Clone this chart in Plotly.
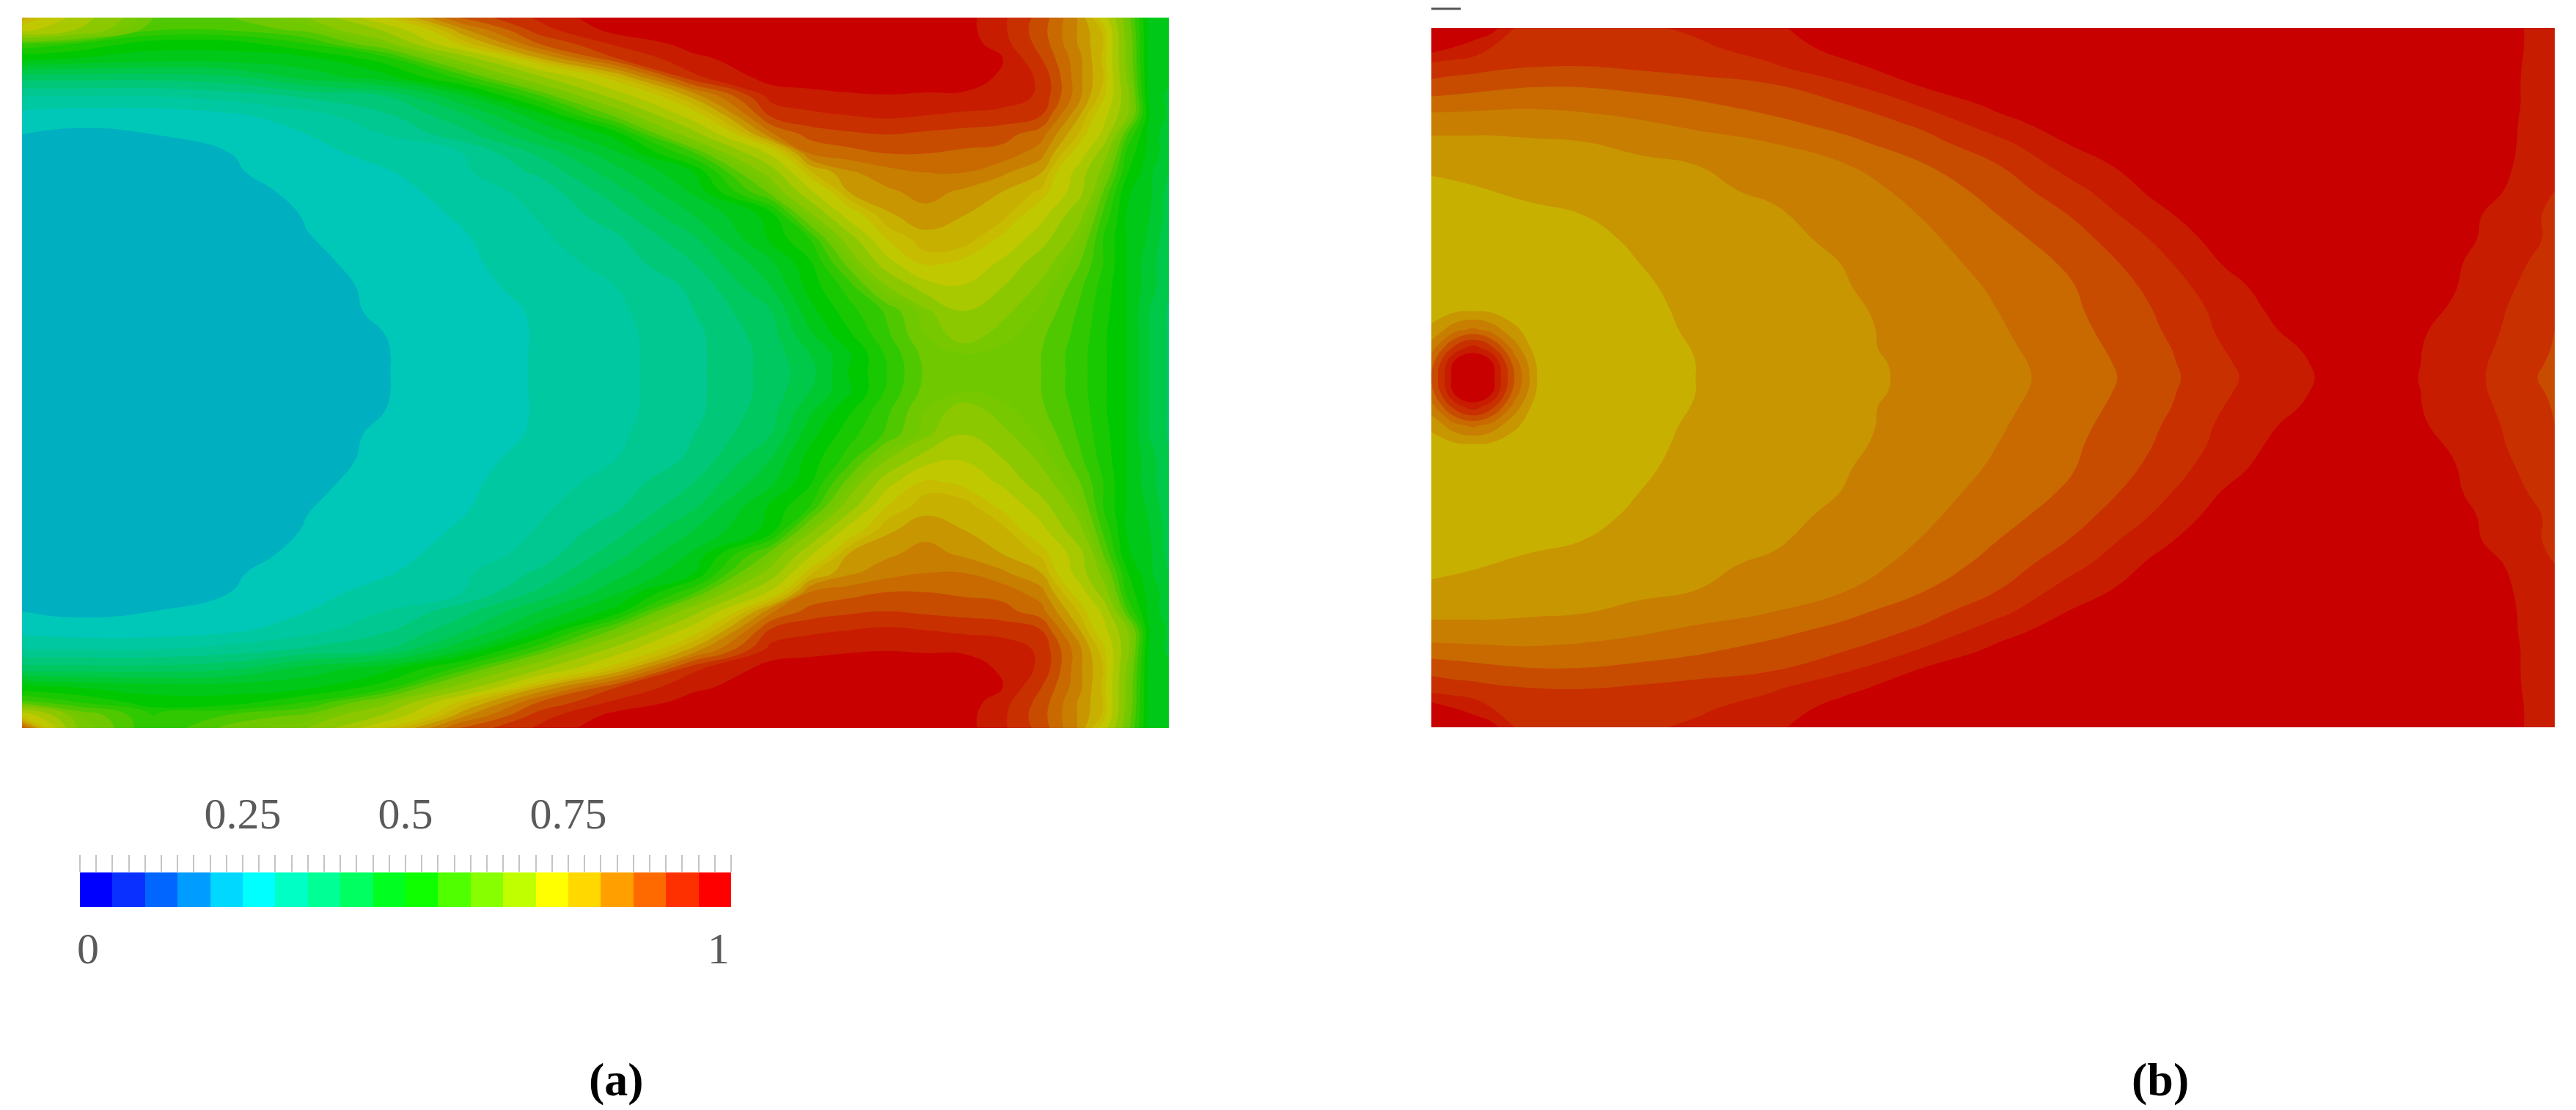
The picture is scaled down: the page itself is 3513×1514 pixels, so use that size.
import plotly.graph_objects as go

W, H = 3513, 1514
PAGE_MARGIN = 8

# Band colours of the two fields (40 bands, lower edge = index * 0.025)
field_colors = [
    "#0000c8", "#0014c8", "#0028c8", "#003cc8", "#0050c8", "#0064c8", "#0078c8", "#008cc8",
    "#00a0c8", "#00b0c0", "#00c8b8", "#00c8a0", "#00c890", "#00c878", "#00c860", "#00c848",
    "#00c830", "#00c818", "#00c800", "#18c800", "#30c800", "#50c800", "#70c800", "#78c800",
    "#8cc800", "#8cc800", "#a8c800", "#a8c800", "#c0c800", "#c0c800", "#c8bc00", "#c8b000",
    "#c89600", "#c87e00", "#c86a00", "#c84c00", "#c83000", "#c81c00", "#c80000", "#c80000",
]
# Colour bar cells
bar_colors = [
    "#0000ff", "#0a30ff", "#0066ff", "#009cff", "#00d8ff", "#00ffff", "#00ffc4", "#00ff94",
    "#00ff60", "#00ff20", "#10ff00", "#50ff00", "#88ff00", "#c0ff00", "#ffff00", "#ffd800",
    "#ffa000", "#ff6a00", "#ff3000", "#ff0000",
]
bar_edges = [i / 20 for i in range(21)]
bar_values = [[i / 20 + 0.025 for i in range(20)]]
bar_ticks = [i / 40 for i in range(41)]
bar_top_labels = {0.25: "0.25", 0.5: "0.5", 0.75: "0.75"}

# Panel (a)
a_x = [30, 100, 200, 300, 400, 500, 600, 700, 800, 900, 1000, 1050, 1100, 1150, 1200, 1250, 1300, 1350, 1400, 1430, 1460, 1490, 1515]
a_y_top = [35, 60, 90, 120, 160, 200, 240, 280, 320, 360, 400, 450, 500, 550, 600, 650, 700, 740, 780]
a_top = [
    [.8,.68,.55,.55,.6,.75,.88,.93,.97,.97,.97,.97,.97,.97,.97,.96,.93,.89,.82,.73,.57,.44,.43],
    [.72,.65,.53,.53,.56,.66,.82,.915,.96,.97,.97,.97,.97,.97,.97,.96,.93,.885,.82,.77,.58,.44,.43],
    [.52,.5,.46,.46,.5,.58,.76,.875,.93,.96,.97,.97,.97,.97,.97,.965,.935,.89,.82,.775,.59,.44,.43],
    [.46,.45,.44,.44,.445,.49,.62,.8,.9,.945,.965,.97,.97,.97,.97,.965,.95,.9,.83,.77,.59,.44,.43],
    [.36,.36,.36,.37,.41,.44,.51,.64,.775,.92,.96,.965,.97,.97,.97,.965,.945,.92,.83,.775,.6,.44,.43],
    [.3,.3,.3,.31,.33,.35,.42,.52,.67,.81,.935,.94,.945,.948,.945,.945,.94,.92,.83,.76,.62,.44,.42],
    [.265,.26,.26,.27,.29,.32,.37,.44,.56,.73,.905,.92,.925,.93,.925,.92,.915,.9,.80,.72,.61,.45,.42],
    [.25,.245,.25,.26,.275,.30,.34,.40,.46,.63,.845,.885,.895,.90,.895,.89,.885,.86,.77,.69,.53,.44,.41],
    [.235,.235,.238,.25,.265,.285,.30,.355,.42,.52,.71,.85,.865,.875,.875,.87,.865,.835,.725,.625,.495,.44,.41],
    [.23,.23,.23,.247,.262,.272,.295,.33,.39,.45,.62,.77,.82,.84,.85,.85,.83,.8,.675,.585,.48,.43,.4],
    [.23,.23,.23,.24,.257,.266,.285,.31,.365,.43,.56,.69,.80,.82,.835,.82,.80,.77,.665,.55,.455,.43,.39],
    [.23,.23,.23,.232,.252,.262,.278,.302,.34,.40,.46,.585,.72,.795,.815,.80,.785,.715,.61,.52,.45,.425,.39],
    [.23,.23,.23,.232,.249,.26,.272,.295,.32,.37,.455,.5,.62,.75,.79,.79,.74,.67,.575,.50,.45,.42,.38],
    [.23,.23,.23,.232,.245,.258,.27,.288,.31,.35,.42,.47,.56,.68,.76,.74,.69,.62,.55,.5,.45,.41,.38],
    [.23,.23,.23,.232,.24,.256,.268,.282,.30,.33,.40,.46,.51,.595,.675,.695,.65,.59,.53,.49,.45,.41,.38],
    [.23,.23,.23,.23,.235,.256,.263,.278,.295,.325,.375,.44,.49,.53,.59,.65,.61,.57,.52,.485,.45,.40,.37],
    [.23,.23,.23,.23,.232,.25,.262,.277,.293,.318,.365,.42,.47,.52,.575,.62,.585,.555,.515,.48,.45,.4,.37],
    [.23,.23,.23,.23,.232,.249,.263,.277,.292,.318,.36,.40,.445,.505,.56,.575,.565,.55,.51,.48,.45,.4,.37],
    [.23,.23,.23,.23,.232,.249,.263,.277,.292,.318,.36,.39,.45,.5,.555,.56,.56,.55,.51,.48,.45,.4,.37],
]
a_bottom_edge = [
    [.53,.5,.46,.46,.5,.58,.76,.875,.93,.96,.97,.97,.97,.97,.97,.965,.935,.89,.82,.775,.59,.44,.43],
    [.75,.58,.5,.53,.56,.66,.82,.915,.96,.97,.97,.97,.97,.97,.97,.96,.93,.885,.82,.77,.58,.44,.43],
    [.88,.6,.5,.56,.6,.75,.88,.93,.97,.97,.97,.97,.97,.97,.97,.96,.93,.89,.82,.73,.57,.44,.43],
]
a_z = a_top + a_top[-2:2:-1] + a_bottom_edge
a_y = a_y_top + [1560 - y for y in a_y_top[-2::-1]]

# Panel (b)
b_x = [50, 80, 105, 130, 160, 190, 250, 325, 400, 500, 600, 700, 800, 900, 1000, 1100, 1200, 1300, 1400, 1470, 1538]
b_y_top = [60, 100, 140, 180, 220, 260, 300, 350, 400, 450, 500, 550, 600, 650, 690, 730, 760, 790]
b_top = [
    [.98,.975,.97,.96,.925,.915,.915,.92,.93,.945,.968,.97,.97,.97,.97,.97,.97,.97,.97,.96,.935],
    [.965,.95,.94,.925,.915,.912,.912,.915,.92,.937,.96,.97,.97,.97,.97,.97,.97,.97,.97,.96,.935],
    [.915,.912,.91,.906,.903,.901,.9,.905,.912,.922,.945,.965,.97,.97,.97,.97,.97,.97,.97,.96,.932],
    [.893,.888,.885,.882,.879,.877,.877,.882,.888,.898,.922,.952,.97,.97,.97,.97,.97,.97,.97,.96,.93],
    [.862,.861,.859,.857,.855,.855,.858,.864,.871,.884,.90,.928,.957,.97,.97,.97,.97,.97,.97,.96,.93],
    [.833,.833,.833,.833,.834,.835,.838,.846,.856,.868,.884,.905,.94,.965,.97,.97,.97,.97,.97,.958,.93],
    [.82,.82,.82,.82,.821,.822,.824,.83,.838,.85,.869,.89,.918,.953,.97,.97,.97,.97,.97,.957,.93],
    [.806,.808,.81,.811,.812,.813,.816,.82,.824,.838,.848,.872,.898,.936,.962,.97,.97,.97,.97,.955,.927],
    [.79,.794,.797,.8,.803,.806,.811,.817,.821,.828,.838,.859,.885,.917,.953,.97,.97,.97,.965,.95,.925],
    [.785,.785,.787,.79,.793,.795,.8,.807,.813,.822,.835,.851,.875,.902,.94,.97,.97,.97,.965,.94,.92],
    [.785,.785,.785,.785,.787,.79,.795,.803,.81,.819,.83,.845,.865,.89,.925,.962,.97,.97,.96,.94,.92],
    [.785,.785,.785,.785,.785,.785,.79,.80,.807,.815,.826,.841,.858,.88,.913,.952,.97,.97,.955,.934,.915],
    [.785,.785,.785,.785,.785,.785,.786,.797,.806,.814,.824,.838,.853,.874,.904,.941,.97,.97,.953,.93,.91],
    [.79,.795,.798,.795,.787,.785,.785,.795,.804,.813,.821,.835,.85,.871,.898,.933,.965,.97,.948,.926,.905],
    [.805,.84,.855,.84,.805,.785,.785,.793,.803,.812,.82,.833,.847,.868,.894,.93,.958,.97,.942,.924,.9],
    [.84,.91,.94,.91,.84,.785,.785,.79,.801,.811,.82,.832,.844,.865,.889,.925,.95,.97,.938,.922,.898],
    [.865,.955,.975,.955,.865,.797,.785,.79,.8,.81,.819,.83,.842,.862,.887,.922,.947,.97,.937,.92,.895],
    [.875,.96,1.0,.96,.875,.8,.785,.79,.8,.81,.818,.83,.841,.861,.885,.92,.945,.97,.935,.92,.89],
]
b_z = b_top + b_top[-2::-1]
b_y = b_y_top + [1580 - y for y in b_y_top[-2::-1]]


def px(x):
    return (x - PAGE_MARGIN) / W


def py(y):
    return 1 - (y - PAGE_MARGIN) / H


def bands(colors):
    n = len(colors)
    out = []
    for i, c in enumerate(colors):
        out += [[i / n, c], [(i + 1) / n, c]]
    return out


def field(x, y, z, xa, ya):
    return go.Contour(
        x=x, y=y, z=z, xaxis=xa, yaxis=ya,
        colorscale=bands(field_colors), zmin=0, zmax=1, zauto=False, showscale=False,
        contours=dict(coloring="fill", start=0, end=1, size=0.025, showlines=False),
        line=dict(width=0, smoothing=1.3),
    )


fig = go.Figure()
fig.add_trace(field(a_x, a_y, a_z, "x", "y"))
fig.add_trace(field(b_x, b_y, b_z, "x2", "y2"))
fig.add_trace(go.Heatmap(
    x=bar_edges, y=[0, 1], z=bar_values, xaxis="x3", yaxis="y3",
    colorscale=bands(bar_colors), zmin=0, zmax=1, showscale=False,
))

hidden = dict(visible=False, showgrid=False, zeroline=False)
text_font = dict(family="Liberation Serif", size=60, color="#5a5a5a")
fig.update_layout(
    width=W, height=H, margin=dict(l=0, r=0, t=0, b=0),
    paper_bgcolor="white", plot_bgcolor="white", showlegend=False,
    xaxis=dict(domain=[px(30), px(1594)], range=[30, 1515], anchor="y", **hidden),
    yaxis=dict(domain=[py(993), py(24)], range=[1525, 35], anchor="x", **hidden),
    xaxis2=dict(domain=[px(1952), px(3484)], range=[50, 1538], anchor="y2", **hidden),
    yaxis2=dict(domain=[py(992), py(38)], range=[1520, 60], anchor="x2", **hidden),
    xaxis3=dict(
        domain=[px(109), px(997)], range=[0, 1], anchor="y3", side="top",
        showgrid=False, zeroline=False, showline=False,
        tickmode="array", tickvals=bar_ticks,
        ticktext=[bar_top_labels.get(t, "") for t in bar_ticks],
        ticks="outside", ticklen=23, tickwidth=2, tickcolor="#c4c4c8",
        tickfont=text_font, ticklabelstandoff=12,
    ),
    yaxis3=dict(domain=[py(1237), py(1190)], range=[0, 1], anchor="x3", **hidden),
    annotations=[
        dict(text="0", xref="x3", yref="paper", x=0, y=py(1294), xanchor="left", yanchor="middle",
             showarrow=False, font=text_font, xshift=-6),
        dict(text="1", xref="x3", yref="paper", x=1, y=py(1294), xanchor="right", yanchor="middle",
             showarrow=False, font=text_font),
        dict(text="(a)", xref="paper", yref="paper", x=px(840), y=py(1472), xanchor="center", yanchor="middle",
             showarrow=False, font=dict(family="Liberation Serif", size=64, color="black", weight="bold")),
        dict(text="(b)", xref="paper", yref="paper", x=px(2946), y=py(1472), xanchor="center", yanchor="middle",
             showarrow=False, font=dict(family="Liberation Serif", size=64, color="black", weight="bold")),
    ],
    shapes=[
        dict(type="line", xref="paper", yref="paper", x0=px(1952), x1=px(1992), y0=py(12), y1=py(12),
             line=dict(color="#555555", width=3)),
    ],
)

fig.write_html("out.html")
